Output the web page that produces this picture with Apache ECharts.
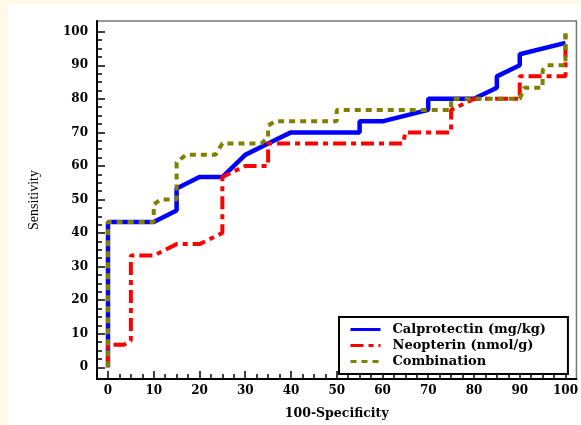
<!DOCTYPE html>
<html>
<head>
<meta charset="utf-8">
<script src="https://cdn.jsdelivr.net/npm/echarts@6/dist/echarts.min.js"></script>
<style>
  html, body { margin: 0; padding: 0; background: #fffae8; }
  #chart { position: absolute; left: 8px; top: 4px; width: 573px; height: 421px; background: #fff; }
</style>
</head>
<body>
<div id="chart"></div>
<script>
const SERIF = 'DejaVu Serif, serif'

// ROC curves: x = 100-Specificity, y = Sensitivity
const calX = [0, 0, 10, 15, 15, 20, 25, 30, 35, 40, 55, 55, 60, 70, 70, 80, 85, 85, 90, 90, 100]
const calY = [0, 43.3, 43.3, 46.7, 53.3, 56.7, 56.7, 63.3, 66.7, 70, 70, 73.3, 73.3, 76.7, 80, 80, 83.3, 86.7, 90, 93.3, 96.7]

const neoX = [0, 0, 3.5, 5, 5, 10, 15, 20, 25, 25, 30, 35, 35, 64.5, 65, 75, 75, 80, 90, 90, 100, 100]
const neoY = [0, 6.7, 6.7, 8, 33.3, 33.3, 36.7, 36.7, 40, 56.7, 60, 60, 66.7, 66.7, 70, 70, 76.7, 80, 80, 86.7, 86.7, 100]

const comX = [0, 0, 10, 10, 11.5, 15, 15, 17, 23.5, 25, 33.5, 35, 35, 36.5, 50, 50, 75, 75, 90, 91, 95, 95, 96, 100, 100]
const comY = [0, 43.3, 43.3, 48.5, 50, 50, 61, 63.3, 63.3, 66.7, 66.7, 68.5, 72, 73.3, 73.3, 76.7, 76.7, 80, 80, 83.3, 83.3, 88.5, 90, 90, 100]

const seriesNames = ['Calprotectin (mg/kg)', 'Neopterin (nmol/g)', 'Combination']

// axis ticks
const majorTicks = [0, 10, 20, 30, 40, 50, 60, 70, 80, 90, 100]
const minorTicks = majorTicks.slice(0, -1).flatMap((v) => [v + 2.5, v + 5, v + 7.5])

const zip = (xs, ys) => xs.map((x, i) => [x, ys[i]])

const chart = echarts.init(document.getElementById('chart'))

const labelStyle = { color: '#000', fontFamily: SERIF, fontWeight: 'bold', fontSize: 12 }

const mainAxis = (extra) => ({
  type: 'value',
  axisLine: { show: true, onZero: false, lineStyle: { color: '#000', width: 2 } },
  axisTick: { show: true, inside: true, length: 8, customValues: majorTicks, lineStyle: { color: '#000', width: 1.5 } },
  splitLine: { show: false },
  ...extra,
})

const minorAxis = (extra) => ({
  type: 'value',
  axisLine: { show: false, onZero: false },
  axisTick: { show: true, inside: true, length: 5, customValues: minorTicks, lineStyle: { color: '#000', width: 1.5 } },
  axisLabel: { show: false },
  splitLine: { show: false },
  ...extra,
})

const options = {
  animation: false,
  grid: { left: 89, right: 1, top: 17, bottom: 39, show: true, borderColor: '#777', borderWidth: 1.5 },
  xAxis: [
    mainAxis({
      min: -2.4, max: 102.4, position: 'bottom',
      name: '100-Specificity', nameLocation: 'middle', nameGap: 28,
      nameTextStyle: { color: '#000', fontFamily: SERIF, fontWeight: 'bold', fontSize: 12.5 },
      axisLabel: { customValues: majorTicks, margin: 6, ...labelStyle },
    }),
    minorAxis({ min: -2.4, max: 102.4, position: 'bottom' }),
  ],
  yAxis: [
    mainAxis({
      min: -3.5, max: 103.2, position: 'left',
      name: 'Sensitivity', nameLocation: 'middle', nameGap: 56,
      nameTextStyle: { color: '#000', fontFamily: 'Liberation Serif, serif', fontSize: 14 },
      axisLabel: { customValues: majorTicks, margin: 9, ...labelStyle },
    }),
    minorAxis({ min: -3.5, max: 103.2, position: 'left' }),
  ],
  legend: {
    orient: 'vertical',
    left: 331,
    top: 313,
    data: seriesNames,
    backgroundColor: '#fff',
    borderColor: '#000',
    borderWidth: 2,
    borderRadius: 0,
    padding: [6, 22, 6, 10],
    itemWidth: 30,
    itemHeight: 14,
    itemGap: 3,
    itemStyle: { opacity: 0 },
    lineStyle: { width: 3 },
    textStyle: { color: '#000', fontFamily: SERIF, fontWeight: 'bold', fontSize: 13, padding: [0, 0, 0, 7] },
  },
  series: [
    {
      name: seriesNames[0], type: 'line', symbol: 'none', z: 2,
      data: zip(calX, calY),
      lineStyle: { color: '#0000ff', width: 4.5, type: 'solid' },
      itemStyle: { color: '#0000ff' },
    },
    {
      name: seriesNames[1], type: 'line', symbol: 'none', z: 3,
      data: zip(neoX, neoY),
      lineStyle: { color: '#ff0000', width: 4, type: [13, 5, 5, 5] },
      itemStyle: { color: '#ff0000' },
    },
    {
      name: seriesNames[2], type: 'line', symbol: 'none', z: 4,
      data: zip(comX, comY),
      lineStyle: { color: '#808000', width: 4, type: [6, 5] },
      itemStyle: { color: '#808000' },
    },
  ],
}

chart.setOption(options)
</script>
</body>
</html>
